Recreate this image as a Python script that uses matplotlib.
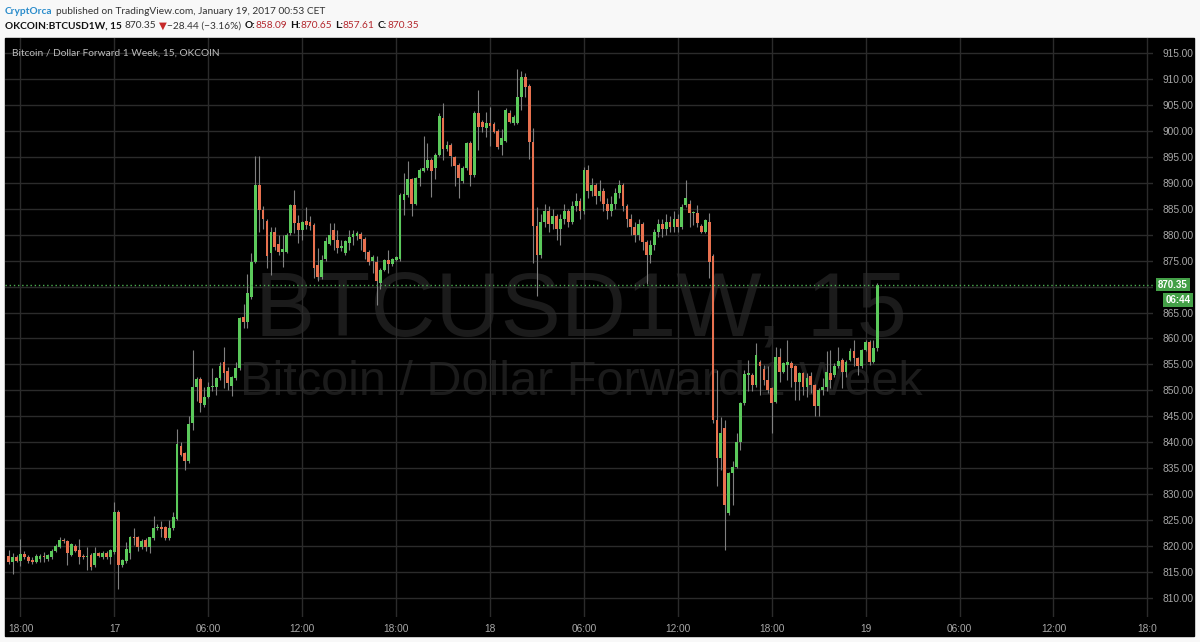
import numpy as np
import pandas as pd
import matplotlib
matplotlib.use('Agg')
import matplotlib.pyplot as plt
import matplotlib.dates as mdates
from matplotlib.patches import Rectangle

# 15 minute candles, OKCOIN BTCUSD 1 week forward, from 2017-01-16 17:15
opens = [
    818.1, 817.0, 817.9, 817.2, 818.4, 817.8, 817.2, 817.0, 817.6, 818.1,
    817.6, 817.8, 819.0, 819.9, 821.1, 821.0, 818.3, 820.0, 819.2, 818.0,
    817.9, 818.3, 816.3, 818.6, 817.8, 818.7, 817.8, 818.9, 826.6, 816.3,
    817.2, 818.7, 821.8, 821.8, 819.9, 821.2, 819.8, 821.5, 823.4, 823.6,
    823.6, 821.5, 823.4, 825.2, 839.2, 837.9, 836.3, 843.8, 850.7, 852.1,
    847.2, 848.8, 850.6, 850.6, 852.3, 855.5, 853.8, 850.9, 852.3, 854.3,
    864.1, 863.2, 867.9, 874.8, 889.6, 884.8, 882.7, 876.4, 880.6, 878.2,
    876.7, 876.7, 880.3, 885.7, 882.2, 880.9, 882.6, 882.4, 881.9, 874.2,
    871.9, 875.3, 878.2, 880.9, 879.0, 877.4, 876.5, 878.3, 879.6, 879.8,
    880.1, 879.1, 876.7, 874.9, 874.8, 870.6, 873.2, 875.2, 874.4, 875.2,
    875.3, 886.7, 887.6, 890.7, 886.0, 890.9, 892.2, 892.8, 894.4, 892.8,
    895.4, 902.4, 896.6, 897.3, 894.9, 893.4, 890.4, 892.8, 897.6, 891.5,
    903.5, 901.7, 900.5, 901.5, 901.3, 900.0, 897.3, 898.0, 903.5, 901.5,
    901.6, 906.6, 910.4, 908.6, 897.9, 881.6, 876.1, 882.5, 884.5, 882.0,
    883.5, 881.0, 883.0, 884.5, 882.5, 885.5, 886.5, 884.5, 892.5, 888.5,
    889.5, 887.5, 888.5, 886.0, 884.5, 886.0, 888.0, 889.5, 885.5, 883.0,
    881.5, 880.0, 882.0, 878.5, 876.0, 878.0, 880.5, 882.0, 881.0, 882.5,
    881.5, 883.0, 881.5, 885.7, 886.0, 884.1, 884.1, 881.7, 880.6, 882.5,
    875.9, 844.3, 836.9, 842.7, 826.3, 834.0, 835.3, 840.1, 847.5, 853.0,
    853.0, 851.0, 855.5, 854.2, 852.0, 850.4, 847.8, 856.5, 853.6, 854.9,
    855.3, 854.6, 851.7, 853.3, 850.7, 852.8, 851.0, 846.9, 850.1, 850.7,
    853.3, 853.0, 854.7, 855.9, 853.6, 855.9, 857.6, 856.2, 854.6, 857.8,
    859.4, 855.5, 858.09,
]
highs = [
    819.2, 818.7, 818.2, 821.3, 819.0, 818.3, 817.8, 818.5, 818.4, 818.8,
    818.4, 819.4, 820.3, 821.8, 821.6, 821.2, 820.6, 820.4, 821.4, 818.4,
    819.9, 818.6, 819.9, 818.9, 819.0, 819.0, 819.5, 828.5, 827.0, 817.6,
    820.7, 822.0, 823.4, 822.0, 821.3, 821.6, 821.8, 825.8, 824.3, 824.9,
    823.9, 825.0, 826.6, 842.5, 840.0, 838.2, 845.1, 857.8, 852.5, 852.5,
    850.6, 851.7, 854.4, 852.6, 855.5, 858.3, 854.5, 852.8, 855.4, 864.2,
    866.6, 872.5, 876.5, 895.2, 895.2, 885.5, 883.0, 881.4, 881.5, 880.0,
    880.0, 880.3, 885.9, 888.6, 883.8, 882.7, 885.4, 883.5, 882.3, 877.4,
    876.0, 879.5, 882.2, 882.2, 880.9, 879.0, 879.0, 880.9, 880.9, 880.8,
    880.5, 879.5, 877.0, 876.0, 875.8, 873.5, 875.3, 877.0, 875.5, 875.8,
    888.0, 891.8, 894.1, 891.0, 891.2, 892.8, 899.0, 897.6, 894.8, 895.8,
    903.4, 905.4, 898.0, 897.6, 895.2, 893.8, 893.2, 897.9, 898.0, 903.8,
    907.9, 902.0, 903.7, 904.6, 901.8, 900.3, 900.3, 904.5, 904.0, 903.0,
    911.9, 911.6, 911.2, 909.0, 900.5, 885.4, 884.0, 886.0, 885.5, 885.0,
    884.0, 884.0, 886.0, 885.0, 886.5, 888.0, 887.0, 893.0, 893.5, 891.0,
    890.0, 890.5, 889.0, 887.0, 887.5, 889.0, 890.5, 890.0, 886.0, 884.0,
    882.5, 883.0, 882.5, 879.0, 879.0, 881.0, 883.0, 883.0, 884.0, 883.5,
    884.5, 884.0, 886.0, 890.5, 886.7, 884.5, 885.7, 882.0, 883.1, 884.2,
    876.2, 853.9, 844.9, 844.3, 834.3, 836.3, 841.7, 847.8, 853.9, 855.9,
    853.3, 859.1, 855.8, 854.9, 854.6, 850.7, 858.4, 858.1, 855.5, 859.7,
    855.6, 854.9, 853.6, 853.6, 853.4, 853.6, 851.3, 850.4, 852.3, 857.5,
    857.8, 855.2, 858.4, 856.2, 855.8, 858.1, 859.7, 856.5, 858.0, 859.7,
    859.7, 859.7, 870.65,
]
lows = [
    816.6, 814.7, 816.9, 816.1, 817.5, 816.8, 816.6, 816.8, 817.0, 817.0,
    817.2, 817.5, 818.8, 819.7, 820.5, 816.3, 818.0, 818.8, 816.6, 817.5,
    815.4, 815.3, 816.0, 817.8, 817.5, 817.5, 816.6, 818.5, 811.8, 816.0,
    816.8, 817.5, 820.2, 819.0, 819.5, 819.0, 818.6, 821.2, 823.0, 821.8,
    821.2, 821.2, 823.0, 825.0, 837.3, 834.7, 836.0, 842.4, 848.0, 845.9,
    846.8, 848.5, 849.9, 849.1, 852.0, 850.4, 850.0, 848.9, 852.0, 854.0,
    862.0, 862.0, 867.6, 874.5, 880.6, 881.0, 873.5, 872.2, 877.0, 876.0,
    873.8, 876.4, 880.0, 880.3, 878.3, 879.0, 881.0, 880.9, 871.6, 871.0,
    871.5, 875.0, 878.0, 877.0, 876.4, 876.8, 876.0, 877.0, 878.0, 879.0,
    877.0, 875.4, 874.2, 872.6, 866.4, 869.6, 873.0, 872.6, 874.0, 875.0,
    875.0, 883.8, 887.3, 883.5, 885.8, 889.3, 892.0, 892.5, 887.3, 890.8,
    895.2, 894.4, 896.2, 893.2, 889.3, 887.0, 890.0, 892.5, 889.3, 891.2,
    896.3, 899.8, 898.9, 897.0, 899.5, 896.5, 895.3, 897.8, 901.5, 901.2,
    901.3, 904.0, 906.6, 894.6, 874.5, 868.1, 875.5, 881.5, 880.5, 881.0,
    879.0, 878.0, 882.0, 881.5, 882.0, 884.5, 883.0, 884.0, 887.0, 887.5,
    886.0, 886.5, 884.5, 883.0, 883.5, 885.0, 887.0, 884.5, 881.5, 880.0,
    878.5, 879.0, 877.0, 870.5, 874.5, 877.0, 879.5, 879.5, 880.0, 880.5,
    880.5, 880.5, 881.0, 885.3, 881.5, 881.9, 881.5, 880.3, 880.3, 871.6,
    843.8, 831.5, 834.7, 819.3, 826.0, 828.0, 835.0, 838.5, 847.2, 849.8,
    849.8, 850.7, 849.1, 851.0, 849.4, 841.7, 847.5, 851.7, 853.3, 852.0,
    850.7, 848.2, 848.2, 849.1, 848.8, 849.4, 845.0, 845.0, 849.1, 849.8,
    850.4, 852.6, 854.4, 850.4, 852.6, 855.6, 854.6, 853.0, 854.3, 857.5,
    854.9, 855.2, 857.61,
]
closes = [
    817.0, 817.9, 817.2, 818.4, 817.8, 817.2, 817.0, 818.0, 818.1, 817.9,
    818.2, 819.1, 820.0, 821.1, 820.9, 818.7, 820.4, 819.1, 817.8, 817.8,
    818.1, 815.9, 818.7, 818.1, 818.7, 817.8, 819.3, 826.6, 816.3, 817.3,
    819.4, 821.8, 821.5, 819.9, 820.9, 819.9, 821.7, 823.4, 823.6, 823.3,
    821.5, 823.4, 825.6, 839.7, 837.6, 836.3, 843.5, 850.7, 852.1, 847.5,
    848.8, 850.6, 850.9, 852.3, 854.7, 853.3, 851.5, 852.5, 854.3, 863.9,
    863.2, 868.7, 874.8, 889.6, 884.8, 883.1, 875.8, 880.6, 877.7, 876.7,
    877.2, 880.0, 885.7, 882.2, 880.9, 882.4, 881.9, 881.6, 873.5, 871.9,
    875.1, 878.7, 880.0, 879.0, 877.4, 877.8, 878.7, 879.6, 880.2, 880.4,
    879.1, 876.7, 874.8, 875.6, 871.0, 873.2, 875.1, 874.4, 875.3, 875.6,
    887.6, 887.9, 890.7, 886.0, 890.9, 892.5, 892.8, 894.4, 892.2, 895.4,
    902.9, 896.6, 897.3, 895.2, 893.2, 890.9, 892.8, 897.6, 891.5, 903.5,
    900.8, 900.8, 901.5, 901.0, 899.8, 896.8, 898.6, 904.0, 901.8, 902.6,
    906.5, 910.4, 908.5, 897.9, 881.6, 876.1, 882.5, 884.5, 882.0, 883.5,
    881.0, 883.0, 884.5, 882.5, 885.5, 886.5, 884.5, 892.5, 888.5, 889.5,
    887.5, 888.5, 886.0, 884.5, 886.0, 888.0, 889.5, 885.5, 883.0, 881.5,
    880.0, 882.0, 878.5, 876.0, 878.0, 880.5, 882.0, 881.0, 882.5, 881.5,
    883.0, 881.5, 885.4, 887.0, 884.1, 884.2, 882.2, 880.6, 882.8, 874.8,
    844.3, 836.9, 841.7, 827.9, 834.0, 835.3, 840.1, 847.5, 853.2, 853.2,
    851.0, 856.8, 854.6, 852.0, 850.1, 847.5, 856.5, 853.6, 855.2, 855.5,
    854.3, 851.7, 853.3, 850.7, 852.3, 851.0, 846.9, 850.1, 850.7, 853.6,
    852.0, 854.7, 855.7, 853.6, 855.5, 857.6, 856.2, 854.6, 857.8, 859.4,
    855.5, 858.1, 870.35,
]
first_bar = '2017-01-16 17:15'
tick_start = '2017-01-16 18:00'
time_labels = ['18:00', '17', '06:00', '12:00', '18:00', '18', '06:00',
               '12:00', '18:00', '19', '06:00', '12:00', '18:0']
price_ticks = list(range(810, 920, 5))
countdown = '06:44'

W, H = 1200, 642
UP, DOWN, WICK = '#5bc95b', '#e8714f', '#808080'
GRID = '#2b2b2b'
LABEL = '#a8a8a8'

fig = plt.figure(figsize=(W / 100, H / 100), dpi=100, facecolor='#f8f8f8')
renderer = fig.canvas.get_renderer()

# black chart panel
fig.patches.append(Rectangle((5 / W, 1 - 636 / H), 1189 / W, 598.5 / H,
                             transform=fig.transFigure, color='black', zorder=0))

ax = fig.add_axes([5 / W, 1 - 617 / H, 1148 / W, 579.5 / H])
ax.set_zorder(1)
ax.set_facecolor('none')
for s in ax.spines.values():
    s.set_visible(False)

o = np.array(opens)
h = np.array(highs)
l = np.array(lows)
c = np.array(closes)
times = pd.date_range(first_bar, periods=len(c), freq='15min')
x = mdates.date2num(times)
hour = 1 / 24

colors = np.where(c >= o, UP, DOWN)
body_low = np.minimum(o, c)
body_h = np.maximum(np.abs(c - o), 0.25)

ax.vlines(x, l, h, color=WICK, lw=0.8, zorder=2)
ax.bar(x, body_h, bottom=body_low, width=0.72 * 0.25 * hour,
       color=colors, linewidth=0, zorder=3)

anchor = mdates.date2num(pd.Timestamp(tick_start))
ax.set_xlim(anchor - 0.99 * hour, anchor + 72.36 * hour)
ax.set_ylim(806.33, 917.99)

tick_times = mdates.date2num(pd.date_range(tick_start, periods=len(time_labels), freq='6h'))
ax.set_xticks(tick_times)
ax.set_xticklabels(time_labels)
ax.set_yticks(price_ticks)
# the scale label under the last price box is hidden, as on TradingView
ax.set_yticklabels(['' if abs(v - c[-1]) < 3 else f'{v:.2f}' for v in price_ticks])
ax.yaxis.tick_right()
ax.tick_params(axis='both', length=0, labelcolor=LABEL, labelsize=7.3)
ax.tick_params(axis='y', pad=7)
ax.tick_params(axis='x', pad=5)
for t in ax.get_xticklabels() + ax.get_yticklabels():
    t.set_family('Liberation Sans')
ax.grid(True, color=GRID, lw=1)
ax.set_axisbelow(True)

# last price line
ax.axhline(c[-1], color='#4caf50', lw=1, ls=(0, (1, 2)), zorder=4)

# watermark
ax.text(0.5017, 0.4866, 'BTCUSD1W, 15', transform=ax.transAxes, ha='center',
        va='baseline', fontsize=65, color='#1b1b1b', family='Liberation Sans', zorder=0)
ax.text(0.5017, 0.383, 'Bitcoin / Dollar Forward 1 Week', transform=ax.transAxes,
        ha='center', va='baseline', fontsize=35, color='#1b1b1b',
        family='Liberation Sans', zorder=0)

# chart title
fig.text(12 / W, 1 - 53 / H, 'Bitcoin / Dollar Forward 1 Week, 15, OKCOIN',
         color='#bdbdbd', fontsize=7.3, family='Lato', va='center', zorder=5)

# price and countdown boxes on the scale
fig.text(1173 / W, 1 - 284.5 / H, f'{c[-1]:.2f}', ha='center', va='center',
         color='white', fontsize=7, fontweight='bold', family='Liberation Sans',
         bbox=dict(boxstyle='square,pad=0.2', fc='#43a047', ec='none'), zorder=5)
fig.text(1178 / W, 1 - 300 / H, countdown, ha='center', va='center',
         color='white', fontsize=7, fontweight='bold', family='Liberation Sans',
         bbox=dict(boxstyle='square,pad=0.2', fc='#43a047', ec='none'), zorder=5)


def text_row(y, pieces, size):
    xp = 5
    for s, color, weight, gap in pieces:
        xp += gap
        t = fig.text(xp / W, 1 - y / H, s, color=color, fontweight=weight,
                     fontsize=size, family=['Lato', 'DejaVu Sans'], va='center')
        xp += t.get_window_extent(renderer).width
    return xp


DARK, RED, BLUE = '#333333', '#b3272d', '#2a8ccb'
text_row(11, [('CryptOrca', BLUE, 'bold', 0),
              ('published on TradingView.com, January 19, 2017 00:53 CET', DARK, 'normal', 3)], 7.3)
text_row(26, [('OKCOIN:BTCUSD1W, 15', '#111111', 'bold', 0),
              ('870.35', DARK, 'normal', 3),
              ('\u25bc', '#c62828', 'normal', 2),
              ('\u221228.44 (\u22123.16%)', DARK, 'normal', 1),
              ('O:', '#111111', 'bold', 3), ('858.09', RED, 'normal', 0),
              ('H:', '#111111', 'bold', 3), ('870.65', RED, 'normal', 0),
              ('L:', '#111111', 'bold', 3), ('857.61', RED, 'normal', 0),
              ('C:', '#111111', 'bold', 3), ('870.35', RED, 'normal', 0)], 7.3)

fig.savefig('out.png', dpi=100, facecolor=fig.get_facecolor())
